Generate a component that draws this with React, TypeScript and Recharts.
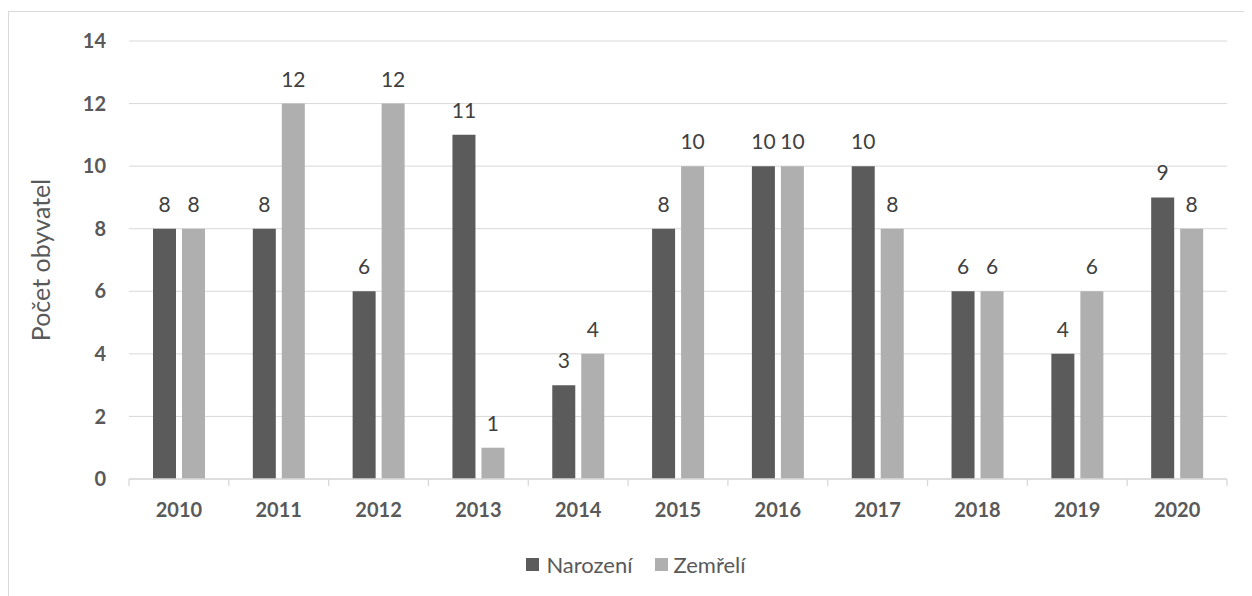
import React from 'react';
import { BarChart, Bar, XAxis, YAxis, CartesianGrid, LabelList, Legend } from 'recharts';

const years = ['2010', '2011', '2012', '2013', '2014', '2015', '2016', '2017', '2018', '2019', '2020'];
const narozeni = [8, 8, 6, 11, 3, 8, 10, 10, 6, 4, 9];
const zemreli = [8, 12, 12, 1, 4, 10, 10, 8, 6, 6, 8];
const yTicks = [0, 2, 4, 6, 8, 10, 12, 14];

const data = years.map((y, i) => ({ year: y, Narozeni: narozeni[i], Zemreli: zemreli[i] }));

const FONT = 'Lato, "Open Sans", sans-serif';
const DARK = '#5b5b5b';
const LIGHT = '#afafaf';
const GRID = '#d9d9d9';
const TEXT = '#595959';

const W = 1243;
const H = 584;
const LEFT = 120;
const RIGHT_M = 25;
const BAND = (W - LEFT - RIGHT_M) / years.length;

const XTick = (props: any) => {
  const { x, y, payload, index } = props;
  const half = BAND / 2;
  return (
    <g>
      <line x1={x - half} x2={x - half} y1={y} y2={y + 7} stroke={GRID} strokeWidth={1.3} />
      {index === years.length - 1 && (
        <line x1={x + half} x2={x + half} y1={y} y2={y + 7} stroke={GRID} strokeWidth={1.3} />
      )}
      <text x={x} y={y + 30} textAnchor="middle" dominantBaseline="central" fill={TEXT}
        fontFamily={FONT} fontWeight={700} fontSize={20}>
        {payload.value}
      </text>
    </g>
  );
};

const LegendContent = () => (
  <div style={{ display: 'flex', justifyContent: 'center', alignItems: 'center', height: 30, fontFamily: FONT, fontSize: 22, color: TEXT, paddingLeft: 36 }}>
    <span style={{ display: 'inline-block', width: 13, height: 13, background: DARK, marginRight: 7 }} />
    <span style={{ marginRight: 22 }}>Narození</span>
    <span style={{ display: 'inline-block', width: 13, height: 13, background: LIGHT, marginRight: 6 }} />
    <span>Zemřelí</span>
  </div>
);

const YLabel = (props: any) => {
  const { viewBox } = props;
  const cx = viewBox.x + 31;
  const cy = viewBox.y + viewBox.height / 2;
  return (
    <text x={cx} y={cy} transform={`rotate(-90 ${cx} ${cy})`} textAnchor="middle" dominantBaseline="central"
      fill={TEXT} fontFamily={FONT} fontSize={25}>
      Počet obyvatel
    </text>
  );
};

export default function App() {
  return (
    <div style={{ paddingTop: 3 }}>
      <div style={{ width: W, height: H, borderLeft: `1px solid ${GRID}`, borderTop: `1px solid ${GRID}` }}>
        <BarChart width={W} height={H} data={data}
          margin={{ top: 29, right: RIGHT_M, left: 0, bottom: 17 }}
          barSize={23} barGap={6}>
          <CartesianGrid vertical={false} stroke={GRID} strokeWidth={1} />
          <XAxis dataKey="year" height={70} axisLine={{ stroke: GRID, strokeWidth: 1.3 }} tickLine={false}
            tickSize={0} tickMargin={0} tick={<XTick />} interval={0} />
          <YAxis width={LEFT} domain={[0, 14]} ticks={yTicks} axisLine={false} tickLine={false}
            tickSize={0} tickMargin={23}
            tick={{ fill: TEXT, fontFamily: FONT, fontWeight: 700, fontSize: 20 }}
            label={<YLabel />} />
          <Legend verticalAlign="bottom" content={<LegendContent />} />
          <Bar dataKey="Narozeni" fill={DARK} isAnimationActive={false}>
            <LabelList dataKey="Narozeni" position="top" offset={17} fill="#404040" fontFamily={FONT} fontSize={21} />
          </Bar>
          <Bar dataKey="Zemreli" fill={LIGHT} isAnimationActive={false}>
            <LabelList dataKey="Zemreli" position="top" offset={17} fill="#404040" fontFamily={FONT} fontSize={21} />
          </Bar>
        </BarChart>
      </div>
    </div>
  );
}
